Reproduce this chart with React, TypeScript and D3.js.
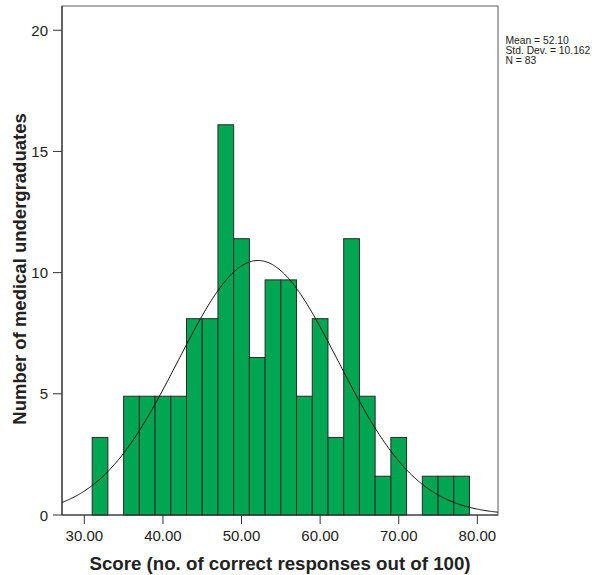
import React from "react";
import * as d3 from "d3";

// Histogram bins (score ranges, width 2) and bar heights
const binStarts = [31, 33, 35, 37, 39, 41, 43, 45, 47, 49, 51, 53, 55, 57, 59, 61, 63, 65, 67, 69, 71, 73, 75, 77];
const binWidth = 2;
const barHeights = [3.2, 0, 4.9, 4.9, 4.9, 4.9, 8.1, 8.1, 16.1, 11.4, 6.5, 9.7, 9.7, 4.9, 8.1, 3.2, 11.4, 4.9, 1.6, 3.2, 0, 1.6, 1.6, 1.6];

// Fitted normal curve statistics
const mean = 52.1;
const stdDev = 10.162;
const curvePeak = 10.5;

const xTicks = [30, 40, 50, 60, 70, 80];
const yTicks = [0, 5, 10, 15, 20];
const statLines = ["Mean = 52.10", "Std. Dev. = 10.162", "N = 83"];

const W = 600;
const H = 575;
const plot = { left: 62, right: 498, top: 6, bottom: 515 };
const FONT = "'Liberation Sans', Arial, Helvetica, sans-serif";

export default function App() {
  const x = d3.scaleLinear().domain([27.16, 82.63]).range([plot.left, plot.right]);
  const y = d3.scaleLinear().domain([0, 21]).range([plot.bottom, plot.top]);

  const curvePts = d3.range(0, 401).map((i) => {
    const v = 27.16 + (i / 400) * (82.63 - 27.16);
    const z = (v - mean) / stdDev;
    return [v, curvePeak * Math.exp(-0.5 * z * z)] as [number, number];
  });
  const line = d3
    .line<[number, number]>()
    .x((d) => x(d[0]))
    .y((d) => y(d[1]));

  return (
    <svg
      width={W}
      height={H}
      style={{ position: "absolute", left: 0, top: 0, background: "#fff" }}
      fontFamily={FONT}
    >
      {/* frame */}
      <rect
        x={plot.left}
        y={plot.top}
        width={plot.right - plot.left}
        height={plot.bottom - plot.top}
        fill="#fff"
        stroke="#777"
        strokeWidth={1.2}
      />
      {/* bars */}
      {binStarts.map((s, i) =>
        barHeights[i] > 0 ? (
          <rect
            key={i}
            x={x(s)}
            y={y(barHeights[i])}
            width={x(s + binWidth) - x(s)}
            height={y(0) - y(barHeights[i])}
            fill="#00a651"
            stroke="#2a2a2a"
            strokeWidth={1}
          />
        ) : null
      )}
      {/* normal curve */}
      <path d={line(curvePts) || ""} fill="none" stroke="#111" strokeWidth={1} />
      {/* axes lines */}
      <line x1={plot.left} x2={plot.left} y1={plot.top} y2={plot.bottom} stroke="#333" strokeWidth={1.2} />
      <line x1={plot.left} x2={plot.right} y1={plot.bottom} y2={plot.bottom} stroke="#333" strokeWidth={1.2} />
      {/* y ticks */}
      {yTicks.map((t) => (
        <g key={t}>
          <line x1={plot.left - 9} x2={plot.left} y1={y(t)} y2={y(t)} stroke="#333" strokeWidth={1} />
          <text x={plot.left - 14} y={y(t) + 5.5} textAnchor="end" fontSize={15} fill="#222">
            {t}
          </text>
        </g>
      ))}
      {/* x ticks */}
      {xTicks.map((t) => (
        <g key={t}>
          <line x1={x(t)} x2={x(t)} y1={plot.bottom} y2={plot.bottom + 9} stroke="#333" strokeWidth={1} />
          <text x={x(t)} y={plot.bottom + 26} textAnchor="middle" fontSize={15} fill="#222">
            {t.toFixed(2)}
          </text>
        </g>
      ))}
      {/* axis titles */}
      <text x={280} y={570} textAnchor="middle" fontSize={18.7} fontWeight="bold" fill="#222">
        Score (no. of correct responses out of 100)
      </text>
      <text
        transform={`translate(26, 269) rotate(-90)`}
        textAnchor="middle"
        fontSize={18.5}
        fontWeight="bold"
        fill="#222"
      >
        Number of medical undergraduates
      </text>
      {/* stats */}
      {statLines.map((s, i) => (
        <text key={i} x={505.5} y={44 + i * 10.2} fontSize={10.3} fill="#222">
          {s}
        </text>
      ))}
    </svg>
  );
}
